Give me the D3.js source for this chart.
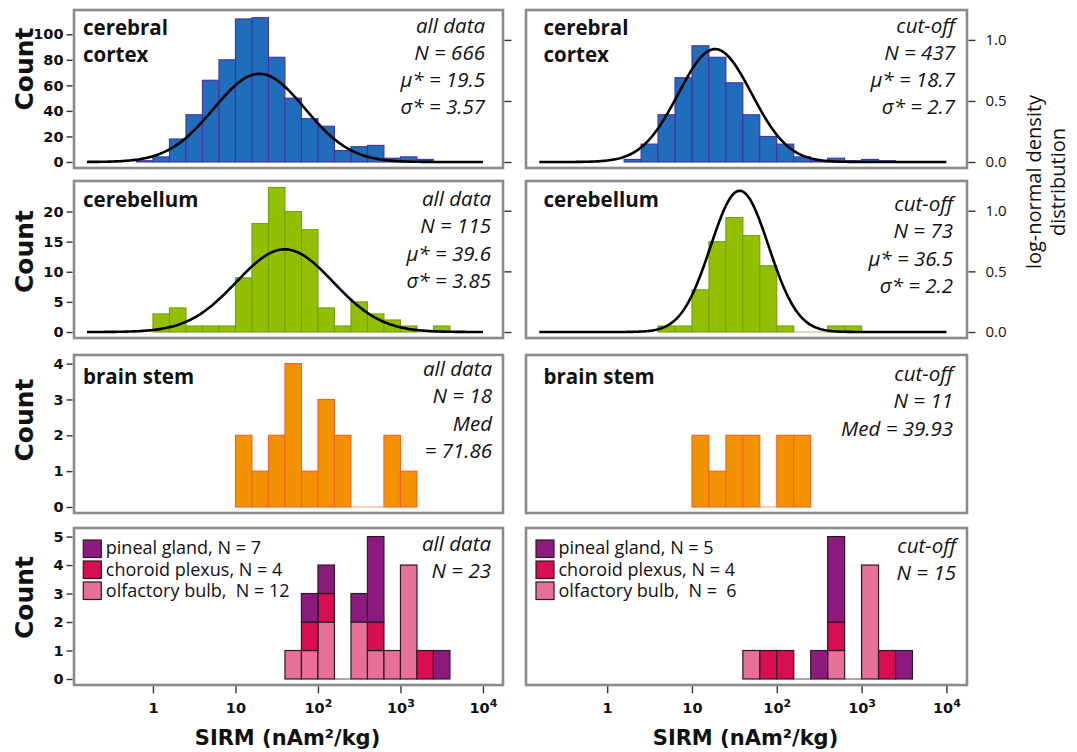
<!DOCTYPE html>
<html>
<head>
<meta charset="utf-8">
<script src="https://cdn.jsdelivr.net/npm/d3@7"></script>
<style>
  body { margin: 0; background: #fff; }
  svg text { fill: #111; }
</style>
</head>
<body>
<div id="container"></div>
<script>
/* DATA */
// all histograms use bins 0.2 wide in log10(SIRM); "Start" = left edge of first bin (log10)
const binWidth = 0.2;

const cortexAllStart = -0.2;
const cortexAllCounts = [1, 4, 18, 37, 64, 80, 112, 113, 82, 50, 34, 28, 9, 12, 13, 3, 4, 2];
const cortexAllFit = [19.5, 3.57];   // mu*, sigma*
const cortexAllNotes = ["all data", "N = 666", "μ* = 19.5", "σ* = 3.57"];

const cortexCutStart = 0.2;
const cortexCutCounts = [2, 14, 37, 66, 91, 82, 62, 37, 20, 14, 4, 1, 3, 1, 2, 1];
const cortexCutFit = [18.7, 2.7];
const cortexCutNotes = ["cut-off", "N = 437", "μ* = 18.7", "σ* = 2.7"];

const cerebAllStart = 0.0;
const cerebAllCounts = [3, 4, 1, 1, 1, 9, 18, 24, 20, 17, 4, 1, 5, 3, 2, 1, 0, 1];
const cerebAllFit = [39.6, 3.85];
const cerebAllNotes = ["all data", "N = 115", "μ* = 39.6", "σ* = 3.85"];

const cerebCutStart = 0.6;
const cerebCutCounts = [1, 1, 7, 15, 19, 16, 11, 1, 0, 0, 1, 1];
const cerebCutFit = [36.5, 2.2];
const cerebCutNotes = ["cut-off", "N = 73", "μ* = 36.5", "σ* = 2.2"];

const stemAllStart = 1.0;
const stemAllCounts = [2, 1, 2, 4, 1, 3, 2, 0, 0, 2, 1];
const stemAllNotes = ["all data", "N = 18", "Med", "= 71.86"];

const stemCutStart = 1.0;
const stemCutCounts = [2, 1, 2, 2, 0, 2, 2];
const stemCutNotes = ["cut-off", "N = 11", "Med = 39.93"];

const otherStart = 1.6;
const tissues = ["olfactory", "choroid", "pineal"];   // stacking order, bottom to top
const olfactoryAll = [1, 1, 2, 0, 2, 1, 1, 4, 0, 0];
const choroidAll   = [0, 1, 1, 0, 0, 1, 0, 0, 1, 0];
const pinealAll    = [0, 1, 1, 0, 1, 3, 0, 0, 0, 1];
const olfactoryCut = [1, 0, 0, 0, 0, 1, 0, 4, 0, 0];
const choroidCut   = [0, 1, 1, 0, 0, 1, 0, 0, 1, 0];
const pinealCut    = [0, 0, 0, 0, 1, 3, 0, 0, 0, 1];
const legendAll = ["pineal gland, N = 7", "choroid plexus, N = 4", "olfactory bulb,  N = 12"];
const legendCut = ["pineal gland, N = 5", "choroid plexus, N = 4", "olfactory bulb,  N =  6"];
const otherAllNotes = ["all data", "N = 23"];
const otherCutNotes = ["cut-off", "N = 15"];

const countTicks = [[0, 20, 40, 60, 80, 100], [0, 5, 10, 15, 20], [0, 1, 2, 3, 4], [0, 1, 2, 3, 4, 5]];
const densityTicks = [0, 0.5, 1.0];
const xTicks = [1, 10, 100, 1000, 10000];

/* LAYOUT */
const W = 1077, H = 752;
const cols = [{x: 74, w: 429}, {x: 526, w: 441}];
const rows = [{y: 10, h: 158}, {y: 181, h: 157}, {y: 355, h: 158}, {y: 528, h: 157}];
const basePad = 6;
const countTop = [119, 25.07, 4.24, 5.3];   // count value reached at the top of the frame
const densityTop = 1.245;
const xDomain = [Math.pow(10, -0.957), Math.pow(10, 4.243)];

const tissueFill = {olfactory: "#e86f98", choroid: "#d90d52", pineal: "#8d1a7e"};

const svg = d3.select("#container").append("svg")
  .attr("width", W).attr("height", H);

const panels = [
  {r: 0, c: 0, start: cortexAllStart, counts: cortexAllCounts, fit: cortexAllFit, notes: cortexAllNotes,
   label: ["cerebral", "cortex"], fill: "#1f6dbb", stroke: "#4a2fa3"},
  {r: 0, c: 1, start: cortexCutStart, counts: cortexCutCounts, fit: cortexCutFit, notes: cortexCutNotes,
   label: ["cerebral", "cortex"], fill: "#1f6dbb", stroke: "#4a2fa3"},
  {r: 1, c: 0, start: cerebAllStart, counts: cerebAllCounts, fit: cerebAllFit, notes: cerebAllNotes,
   label: ["cerebellum"], fill: "#92c000", stroke: "#74a010"},
  {r: 1, c: 1, start: cerebCutStart, counts: cerebCutCounts, fit: cerebCutFit, notes: cerebCutNotes,
   label: ["cerebellum"], fill: "#92c000", stroke: "#74a010"},
  {r: 2, c: 0, start: stemAllStart, counts: stemAllCounts, notes: stemAllNotes,
   label: ["brain stem"], fill: "#f39200", stroke: "#f2622a"},
  {r: 2, c: 1, start: stemCutStart, counts: stemCutCounts, notes: stemCutNotes,
   label: ["brain stem"], fill: "#f39200", stroke: "#f2622a"},
  {r: 3, c: 0, start: otherStart, stack: [olfactoryAll, choroidAll, pinealAll], notes: otherAllNotes, legend: legendAll},
  {r: 3, c: 1, start: otherStart, stack: [olfactoryCut, choroidCut, pinealCut], notes: otherCutNotes, legend: legendCut}
];

// first-line baseline of the italic notes, per panel (from frame top)
const noteTop = [[22.5, 22.5], [25, 30], [21, 26], [23, 24.5]];
const noteInset = [[18, 12], [12, 14], [11, 14], [12, 11]];

panels.forEach(p => {
  const box = {x: cols[p.c].x, w: cols[p.c].w, y: rows[p.r].y, h: rows[p.r].h};
  const base = box.y + box.h - basePad;

  const x = d3.scaleLog().domain(xDomain).range([box.x, box.x + box.w]);
  const y = d3.scaleLinear().domain([0, countTop[p.r]]).range([base, box.y]);
  const yd = d3.scaleLinear().domain([0, densityTop]).range([base, box.y]);
  const lx = v => x(Math.pow(10, v));

  const g = svg.append("g");

  if (p.counts) {
    // empty bins show as a thin line on the baseline
    g.selectAll("line.empty")
      .data(p.counts.map((d, i) => ({d, i})).filter(e => e.d === 0))
      .join("line")
      .attr("x1", e => lx(p.start + e.i * binWidth))
      .attr("x2", e => lx(p.start + (e.i + 1) * binWidth))
      .attr("y1", base).attr("y2", base)
      .attr("stroke", p.stroke).attr("stroke-opacity", 0.6).attr("stroke-width", 1);

    g.selectAll("rect.bar")
      .data(p.counts.map((d, i) => ({d, i})).filter(e => e.d > 0))
      .join("rect")
      .attr("class", "bar")
      .attr("x", e => lx(p.start + e.i * binWidth))
      .attr("width", e => lx(p.start + (e.i + 1) * binWidth) - lx(p.start + e.i * binWidth))
      .attr("y", e => y(e.d))
      .attr("height", e => base - y(e.d))
      .attr("fill", p.fill)
      .attr("stroke", p.stroke)
      .attr("stroke-width", 1.1);
  }

  if (p.stack) {
    const rowsData = p.stack[0].map((d, i) => ({
      i: i, olfactory: p.stack[0][i], choroid: p.stack[1][i], pineal: p.stack[2][i]
    }));
    const series = d3.stack().keys(tissues)(rowsData);
    g.selectAll("line.empty")
      .data(rowsData.filter(d => d.olfactory + d.choroid + d.pineal === 0))
      .join("line")
      .attr("x1", d => lx(p.start + d.i * binWidth))
      .attr("x2", d => lx(p.start + (d.i + 1) * binWidth))
      .attr("y1", base).attr("y2", base)
      .attr("stroke", "#555").attr("stroke-width", 1);
    series.forEach(s => {
      g.selectAll("rect." + s.key)
        .data(s.filter(d => d[1] > d[0]))
        .join("rect")
        .attr("class", s.key)
        .attr("x", d => lx(p.start + d.data.i * binWidth))
        .attr("width", d => lx(p.start + (d.data.i + 1) * binWidth) - lx(p.start + d.data.i * binWidth))
        .attr("y", d => y(d[1]))
        .attr("height", d => y(d[0]) - y(d[1]))
        .attr("fill", tissueFill[s.key])
        .attr("stroke", "#2a1a22")
        .attr("stroke-width", 1.2);
    });
  }

  // log-normal density, drawn in log10 space
  if (p.fit) {
    const m = Math.log10(p.fit[0]);
    const s = Math.log10(p.fit[1]);
    const pts = d3.range(-0.8, 4.001, 0.02).map(t => [t, Math.exp(-((t - m) ** 2) / (2 * s * s)) / (s * Math.sqrt(2 * Math.PI))]);
    g.append("path")
      .datum(pts)
      .attr("fill", "none")
      .attr("stroke", "#000")
      .attr("stroke-width", 2.6)
      .attr("d", d3.line().x(d => lx(d[0])).y(d => yd(d[1])));
  }

  // frame
  g.append("rect")
    .attr("x", box.x).attr("y", box.y)
    .attr("width", box.w).attr("height", box.h)
    .attr("fill", "none")
    .attr("stroke", "#8a8a8a")
    .attr("stroke-width", 2.6);

  // count axis on the left column
  if (p.c === 0) {
    const ya = g.append("g")
      .attr("transform", `translate(${box.x - 1.5},0)`)
      .call(d3.axisLeft(y).tickValues(countTicks[p.r]).tickFormat(d3.format("d")).tickSize(6).tickPadding(3));
    ya.select(".domain").remove();
    ya.selectAll(".tick line").attr("stroke", "#333").attr("stroke-width", 1.4);
    ya.selectAll(".tick text")
      .attr("font-family", "DejaVu Sans").attr("font-weight", "bold").attr("font-size", 14.5).attr("fill", "#111");

    g.append("text")
      .attr("transform", `translate(33,${box.y + box.h / 2 - [20, 8, 14, 9][p.r]}) rotate(-90)`)
      .attr("text-anchor", "middle")
      .attr("font-family", "DejaVu Sans").attr("font-weight", "bold").attr("font-size", 25)
      .text("Count");
  }

  // density ticks for the two top rows
  if (p.r < 2) {
    const da = g.append("g")
      .attr("transform", `translate(${box.x + box.w + 1.5},0)`)
      .call(d3.axisRight(yd).tickValues(densityTicks).tickSize(7).tickPadding(10)
        .tickFormat(p.c === 1 ? d3.format(".1f") : () => ""));
    da.select(".domain").remove();
    da.selectAll(".tick line").attr("stroke", "#333").attr("stroke-width", 1.4);
    da.selectAll(".tick text")
      .attr("font-family", "Open Sans").attr("font-size", 15).attr("fill", "#222");
  }

  // x axis at the bottom row
  if (p.r === 3) {
    const xa = g.append("g")
      .attr("transform", `translate(0,${box.y + box.h + 1.3})`)
      .call(d3.axisBottom(x).tickValues(xTicks).tickSize(7).tickPadding(9));
    xa.select(".domain").remove();
    xa.selectAll(".tick line").attr("stroke", "#333").attr("stroke-width", 1.4);
    xa.selectAll(".tick text")
      .attr("font-family", "DejaVu Sans").attr("font-weight", "bold").attr("font-size", 14.5).attr("fill", "#111")
      .each(function(d) {
        const e = Math.round(Math.log10(d));
        const t = d3.select(this).text(null);
        if (e < 2) { t.text(d); return; }
        t.append("tspan").text("10");
        t.append("tspan").attr("dy", "-0.5em").attr("font-size", 11).text(e);
      });

    g.append("text")
      .attr("x", box.x + box.w / 2 - 1)
      .attr("y", 745)
      .attr("text-anchor", "middle")
      .attr("font-family", "DejaVu Sans").attr("font-weight", "bold").attr("font-size", 21)
      .text("SIRM (nAm²/kg)");
  }

  // panel label
  if (p.label) {
    g.append("text")
      .attr("font-family", "Open Sans").attr("font-weight", "bold").attr("font-size", 20.5)
      .selectAll("tspan")
      .data(p.label)
      .join("tspan")
      .attr("x", box.x + (p.c === 0 ? 9 : 17.5))
      .attr("y", (d, i) => box.y + [25, 25.7, 29.3][p.r] + i * 27.3)
      .text(d => d);
  }

  // italic notes, right aligned
  g.append("text")
    .attr("font-family", "Open Sans").attr("font-style", "italic").attr("font-size", 20.5)
    .attr("text-anchor", "end")
    .selectAll("tspan")
    .data(p.notes)
    .join("tspan")
    .attr("x", box.x + box.w - noteInset[p.r][p.c])
    .attr("y", (d, i) => box.y + noteTop[p.r][p.c] + i * 27.3)
    .text(d => d);

  // legend
  if (p.legend) {
    const lg = g.append("g")
      .attr("transform", `translate(${box.x + (p.c === 0 ? 9.3 : 10)},${box.y + 12})`);
    const keys = ["pineal", "choroid", "olfactory"];
    lg.selectAll("rect")
      .data(keys)
      .join("rect")
      .attr("x", 0).attr("y", (d, i) => i * 21)
      .attr("width", 18).attr("height", 17.5)
      .attr("fill", d => tissueFill[d])
      .attr("stroke", "#2a1a22").attr("stroke-width", 1.2);
    lg.selectAll("text")
      .data(p.legend)
      .join("text")
      .attr("x", 22.5)
      .attr("y", (d, i) => 14 + i * 21.7)
      .attr("font-family", "Open Sans").attr("font-size", 18)
      .style("white-space", "pre")
      .text(d => d);
  }
});

// right-hand density axis title
svg.append("text")
  .attr("transform", "translate(1041,182) rotate(-90)")
  .attr("text-anchor", "middle")
  .attr("font-family", "Open Sans").attr("font-size", 20)
  .selectAll("tspan")
  .data(["log-normal density", "distribution"])
  .join("tspan")
  .attr("x", 0)
  .attr("dy", (d, i) => i === 0 ? 0 : 24)
  .text(d => d);
</script>
</body>
</html>
